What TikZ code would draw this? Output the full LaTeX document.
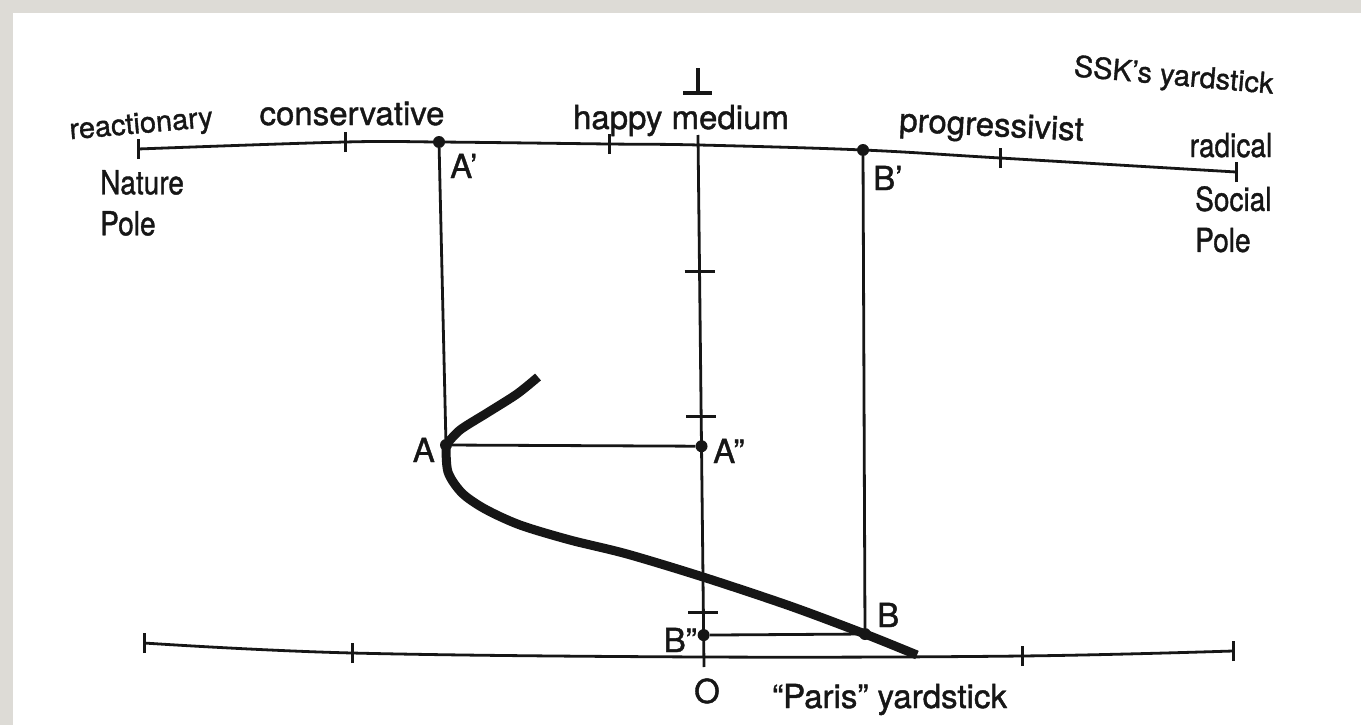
\documentclass[tikz,border=0pt]{standalone}
\usepackage{fontspec}
\setmainfont{TeX Gyre Heros}
\newfontfamily\inkfont[FakeBold=1.2]{TeX Gyre Heros}
\usetikzlibrary{calc}
\definecolor{frame}{RGB}{221,219,214}
\definecolor{ink}{RGB}{22,22,22}

\begin{document}
\begin{tikzpicture}[x=1pt,y=-1pt,
		rule/.style={line width=2.8pt, ink},
		tick/.style={line width=3pt, ink},
		curve/.style={line width=9pt, ink},
		dot/.style={circle, fill=ink, minimum size=12pt, inner sep=0pt},
		lab/.style={font=\inkfont\fontsize{33}{41}\selectfont, inner sep=0pt, text=ink},
		narrow/.style={lab, xscale=0.85},
		smalllab/.style={lab, font=\inkfont\fontsize{29}{36}\selectfont}
		]
		
		% --------------------------------------------------------------------
		% page with grey frame
		% --------------------------------------------------------------------
		\fill[frame] (0,0) rectangle (1361,725);
		\fill[white] (13,13) rectangle (1361,725);
		\useasboundingbox (0,0) rectangle (1361,725);
		
		% coordinates (SSK yardstick, top)
		\coordinate (nat) at (138,149);
		\coordinate (s1) at (345,142);
		\coordinate (a1) at (439,142);
		\coordinate (s2) at (609,144);
		\coordinate (hm) at (699,145);
		\coordinate (b1) at (863,150);
		\coordinate (s3) at (1000,158);
		\coordinate (soc) at (1236,172);
		
		% coordinates (Paris yardstick, bottom)
		\coordinate (pl) at (144,643);
		\coordinate (p1) at (352,653);
		\coordinate (p0) at (704,657);
		\coordinate (p2) at (1022,656);
		\coordinate (pr) at (1233,651);
		
		% middle axis
		\coordinate (vtop) at (698,135);
		\coordinate (O) at (704,667);
		\coordinate (perp) at (698,93);
		
		% TOP: SSK's yardstick
		\draw[rule] plot[smooth, tension=0.6] coordinates {(nat) (s1) (a1) (s2) (hm) (b1) (s3) (soc)};
		\foreach \p in {nat,s1,s2,s3,soc}
		\draw[tick] ([yshift=-10pt]\p) -- ([yshift=10pt]\p);
		
		% BOTTOM: Paris yardstick
		\draw[rule] plot[smooth, tension=0.6] coordinates {(pl) (p1) (p0) (p2) (pr)};
		\foreach \p in {pl,p1,p2,pr}
		\draw[tick] ([yshift=-10pt]\p) -- ([yshift=10pt]\p);
		
		% MIDDLE: vertical axis with its ticks
		\draw[rule] (vtop) -- (O);
		\foreach \t in {0.2575,0.530,0.898}
		\draw[tick] ($(vtop)!\t!(O)$) ++(-15,0) -- ++(30,0);
		\draw[tick, line width=3.4pt] (perp) -- ++(0,-25);
		\draw[tick, line width=3.4pt] ([xshift=-15pt]perp) -- ([xshift=14pt]perp);
		
		% points
		\node[dot] (Ap) at (a1) {};
		\node[dot] (Bp) at (b1) {};
		\node[dot] (A) at (446,445) {};
		\node[dot] (B) at (865,634) {};
		\node[dot] (App) at ($(vtop)!0.585!(O)$) {};
		\node[dot] (Bpp) at ($(vtop)!0.94!(O)$) {};
		
		\draw[rule] (Ap) -- (A);
		\draw[rule] (Bp) -- (B);
		\draw[rule] (A) -- (App);
		\draw[rule] (Bpp) -- (B);
		
		% thick curve
		\coordinate (tip) at (538,377);
		\coordinate (foot) at (917,655);
		\draw[curve] plot[smooth] coordinates {(tip) (517,394) (487,413) (460,430) (A.center)};
		\draw[curve] plot[smooth] coordinates {(A.center) (448,472) (462,493) (485,509) (520,525) (570,540) (627,554) (703,577) (790,606) (B.center) (foot)};
		
		% labels
		\node[smalllab, anchor=base, rotate=5] (reac) at (142,133) {reactionary};
		\node[lab, anchor=base] (cons) at (352,125) {conservative};
		\node[lab, anchor=base] (happy) at (681,129) {happy medium};
		\node[lab, anchor=base, rotate=-3] (prog) at (991,136) {progressivist};
		\node[smalllab, anchor=base, rotate=-5] (ssk) at (1173,85) {SSK’s yardstick};
		\node[narrow, anchor=base] (rad) at (1231,157) {radical};
		\node[narrow, align=left, anchor=north west] (natpole) at (100,170) {Nature\\Pole};
		\node[narrow, align=left, anchor=north west] (socpole) at (1195,186) {Social\\Pole};
		
		\node[lab, anchor=base west] at (450,178) {A’};
		\node[lab, anchor=base west] at (873,190) {B’};
		\node[lab, anchor=base east] at (435,462) {A};
		\node[lab, anchor=base west] at (713,463) {A”};
		\node[lab, anchor=base east] at (697,652) {B”};
		\node[lab, anchor=base west] at (877,627) {B};
		\node[lab, anchor=base] at (707,703) {O};
		\node[lab, anchor=base west] (paris) at (772,708) {“Paris” yardstick};
		
	\end{tikzpicture}
\end{document}
